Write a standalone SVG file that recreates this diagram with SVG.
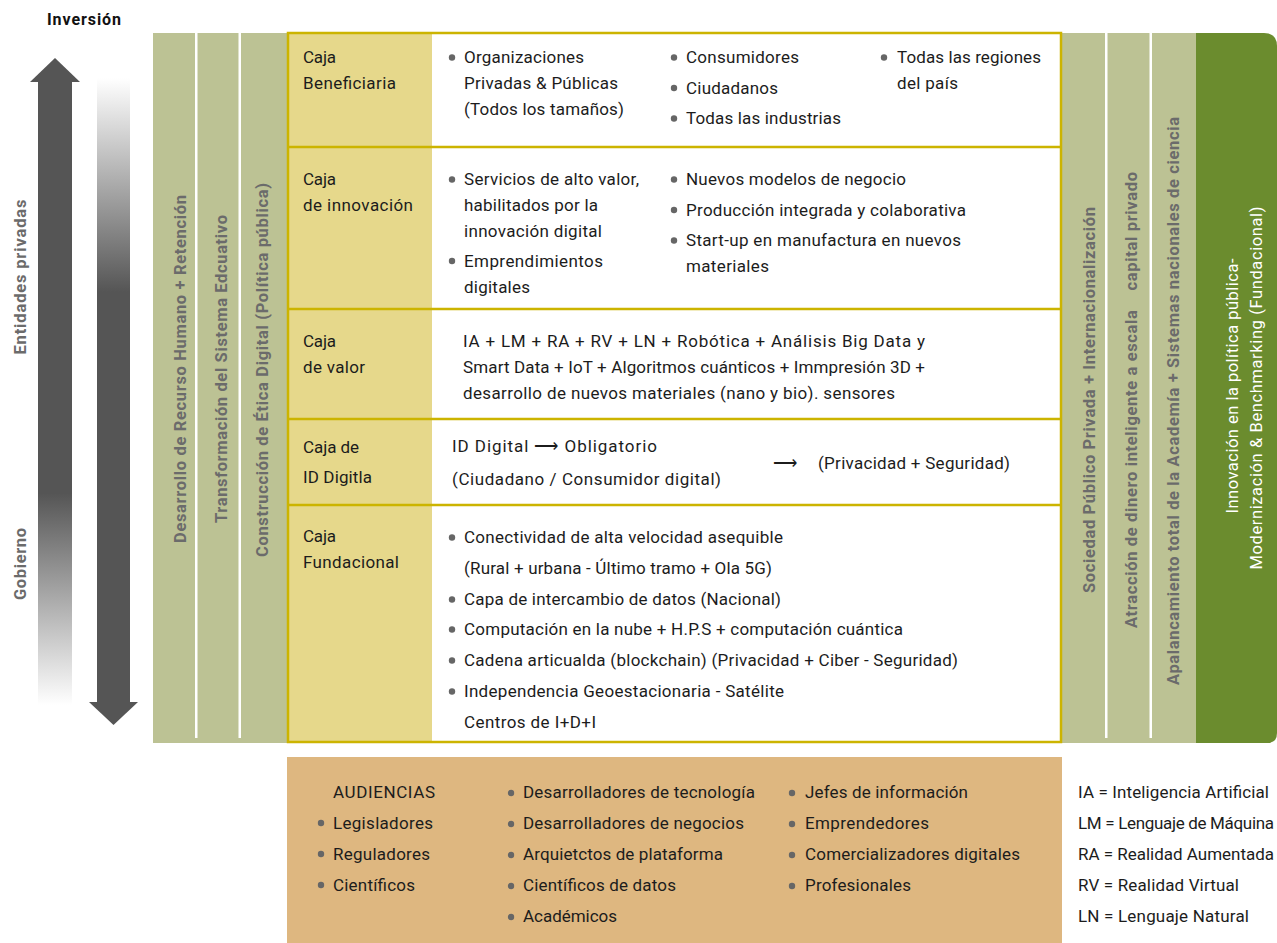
<svg xmlns="http://www.w3.org/2000/svg" width="1277" height="943" viewBox="0 0 1277 943">
<style>
.t{font-family:Roboto,"Liberation Sans",sans-serif;font-size:17px;fill:#1c1c1c}
.v{font-family:Roboto,"Liberation Sans",sans-serif;font-size:16.5px;font-weight:bold;fill:#6b6b6b}
.w{font-family:Roboto,"Liberation Sans",sans-serif;font-size:16.5px;fill:#ffffff}
.b{fill:#666666}
.lg{fill:#bcc294}
.lab{fill:#e6d88b}
.gold{fill:none;stroke:#ccb400;stroke-width:2.5}
</style>
<defs>
<linearGradient id="gUp" gradientUnits="userSpaceOnUse" x1="0" y1="82" x2="0" y2="705">
<stop offset="0" stop-color="#555555"/><stop offset="0.66" stop-color="#555555"/><stop offset="1" stop-color="#ffffff"/>
</linearGradient>
<linearGradient id="gDown" gradientUnits="userSpaceOnUse" x1="0" y1="78" x2="0" y2="292">
<stop offset="0" stop-color="#ffffff"/><stop offset="1" stop-color="#555555"/>
</linearGradient>
</defs>
<rect width="1277" height="943" fill="#ffffff"/>

<g id="axis">
<text class="t" x="47" y="25" style="font-weight:bold;font-size:16px;fill:#111" textLength="74">Inversión</text>
<rect x="38" y="81" width="34" height="624" fill="url(#gUp)"/>
<polygon points="30,82 55,58 80,82" fill="#555555"/>
<rect x="97" y="78" width="33" height="625" fill="url(#gDown)"/>
<polygon points="89,702 113.5,725 138,702" fill="#555555"/>
<text class="v" transform="translate(20.5,277) rotate(-90)" x="0" y="5.5" text-anchor="middle" textLength="155">Entidades privadas</text>
<text class="v" transform="translate(20.5,564) rotate(-90)" x="0" y="5.5" text-anchor="middle" textLength="72">Gobierno</text>
</g>

<g id="left-columns">
<rect class="lg" x="153" y="33" width="135" height="710"/>
<rect x="195" y="33" width="2.5" height="705" fill="#ffffff"/>
<rect x="238.5" y="33" width="2.5" height="705" fill="#ffffff"/>
<text class="v" transform="translate(180.5,369) rotate(-90)" x="0" y="5.5" text-anchor="middle" textLength="348">Desarrollo de Recurso Humano + Retención</text>
<text class="v" transform="translate(221.5,369) rotate(-90)" x="0" y="5.5" text-anchor="middle" textLength="308">Transformación del Sistema Edcuativo</text>
<text class="v" transform="translate(262.5,370) rotate(-90)" x="0" y="5.5" text-anchor="middle" textLength="374">Construcción de Ética Digital (Política pública)</text>
</g>

<g id="right-columns">
<rect class="lg" x="1062" y="33" width="136" height="710"/>
<rect x="1105" y="33" width="2.5" height="705" fill="#ffffff"/>
<rect x="1149.5" y="33" width="2.5" height="705" fill="#ffffff"/>
<path d="M1196,33 H1264 Q1277,33 1277,46 V733 Q1277,743 1267,743 H1196 Z" fill="#6b8c2e"/>
<text class="v" transform="translate(1089.5,400) rotate(-90)" x="0" y="5.5" text-anchor="middle" textLength="386">Sociedad Público Privada + Internacionalización</text>
<text class="v" transform="translate(1131.5,400) rotate(-90)" x="0" y="5.5" text-anchor="middle" textLength="456">Atracción de dinero inteligente a escala&#160;&#160;&#160; capital privado</text>
<text class="v" transform="translate(1173.5,401) rotate(-90)" x="0" y="5.5" text-anchor="middle" textLength="568">Apalancamiento total de la Academía + Sistemas nacionales de ciencia</text>
<text class="w" transform="translate(1232.5,386) rotate(-90)" x="0" y="5.5" text-anchor="middle" textLength="255">Innovación en la política pública-</text>
<text class="w" transform="translate(1256.5,388) rotate(-90)" x="0" y="5.5" text-anchor="middle" textLength="363">Modernización &amp; Benchmarking (Fundacional)</text>
</g>

<g id="table">
<rect x="287" y="32" width="775" height="711" fill="#ffffff"/>
<rect class="lab" x="288" y="33" width="144" height="709"/>
<line x1="287" y1="147" x2="1062" y2="147" stroke="#ccb400" stroke-width="2.5"/>
<line x1="287" y1="309" x2="1062" y2="309" stroke="#ccb400" stroke-width="2.5"/>
<line x1="287" y1="419" x2="1062" y2="419" stroke="#ccb400" stroke-width="2.5"/>
<line x1="287" y1="505" x2="1062" y2="505" stroke="#ccb400" stroke-width="2.5"/>
<rect class="gold" x="288" y="33" width="773" height="709"/>
</g>

<g id="caja-beneficiaria">
<text class="t" x="303" y="63" textLength="33">Caja</text>
<text class="t" x="303" y="89" textLength="93">Beneficiaria</text>
<circle class="b" cx="452" cy="57.5" r="3.2"/>
<text class="t" x="464" y="63" textLength="120">Organizaciones</text>
<text class="t" x="464" y="89" textLength="154">Privadas &amp; Públicas</text>
<text class="t" x="464" y="115" textLength="160">(Todos los tamaños)</text>
<circle class="b" cx="674" cy="57.5" r="3.2"/>
<text class="t" x="686" y="63" textLength="113">Consumidores</text>
<circle class="b" cx="674" cy="88" r="3.2"/>
<text class="t" x="686" y="93.5" textLength="92">Ciudadanos</text>
<circle class="b" cx="674" cy="118.5" r="3.2"/>
<text class="t" x="686" y="124" textLength="155">Todas las industrias</text>
<circle class="b" cx="884" cy="57.5" r="3.2"/>
<text class="t" x="897" y="63" textLength="144">Todas las regiones</text>
<text class="t" x="897" y="89" textLength="61">del país</text>
</g>

<g id="caja-innovacion">
<text class="t" x="303" y="185" textLength="33">Caja</text>
<text class="t" x="303" y="211" textLength="110">de innovación</text>
<circle class="b" cx="452" cy="179.5" r="3.2"/>
<text class="t" x="464" y="185" textLength="175">Servicios de alto valor,</text>
<text class="t" x="464" y="211" textLength="134">habilitados por la</text>
<text class="t" x="464" y="237" textLength="138">innovación digital</text>
<circle class="b" cx="452" cy="261" r="3.2"/>
<text class="t" x="464" y="266.5" textLength="139">Emprendimientos</text>
<text class="t" x="464" y="292.5" textLength="66">digitales</text>
<circle class="b" cx="674" cy="179.5" r="3.2"/>
<text class="t" x="686" y="185" textLength="220">Nuevos modelos de negocio</text>
<circle class="b" cx="674" cy="210" r="3.2"/>
<text class="t" x="686" y="215.5" textLength="280">Producción integrada y colaborativa</text>
<circle class="b" cx="674" cy="240.5" r="3.2"/>
<text class="t" x="686" y="246" textLength="275">Start-up en manufactura en nuevos</text>
<text class="t" x="686" y="272" textLength="83">materiales</text>
</g>

<g id="caja-valor">
<text class="t" x="303" y="347" textLength="33">Caja</text>
<text class="t" x="303" y="373" textLength="62">de valor</text>
<text class="t" x="463" y="347" textLength="462">IA + LM + RA + RV + LN + Robótica + Análisis Big Data y</text>
<text class="t" x="463" y="373" textLength="462">Smart Data + IoT + Algoritmos cuánticos + Immpresión 3D +</text>
<text class="t" x="463" y="399" textLength="432">desarrollo de nuevos materiales (nano y bio). sensores</text>
</g>

<g id="caja-id">
<text class="t" x="303" y="453" textLength="56">Caja de</text>
<text class="t" x="303" y="483" textLength="69">ID Digitla</text>
<text class="t" x="452" y="452" textLength="205">ID Digital ⟶ Obligatorio</text>
<text class="t" x="452" y="485" textLength="269">(Ciudadano / Consumidor digital)</text>
<text class="t" x="773" y="469" textLength="25">⟶</text>
<text class="t" x="818" y="469" textLength="192">(Privacidad + Seguridad)</text>
</g>

<g id="caja-fundacional">
<text class="t" x="303" y="542" textLength="33">Caja</text>
<text class="t" x="303" y="568" textLength="96">Fundacional</text>
<circle class="b" cx="452" cy="537.5" r="3.2"/>
<text class="t" x="464" y="543" textLength="319">Conectividad de alta velocidad asequible</text>
<text class="t" x="464" y="574" textLength="308">(Rural + urbana - Último tramo + Ola 5G)</text>
<circle class="b" cx="452" cy="599.5" r="3.2"/>
<text class="t" x="464" y="605" textLength="317">Capa de intercambio de datos (Nacional)</text>
<circle class="b" cx="452" cy="629.5" r="3.2"/>
<text class="t" x="464" y="635" textLength="439">Computación en la nube + H.P.S + computación cuántica</text>
<circle class="b" cx="452" cy="660.5" r="3.2"/>
<text class="t" x="464" y="666" textLength="494">Cadena articualda (blockchain) (Privacidad + Ciber - Seguridad)</text>
<circle class="b" cx="452" cy="691.5" r="3.2"/>
<text class="t" x="464" y="697" textLength="320">Independencia Geoestacionaria - Satélite</text>
<text class="t" x="464" y="728" textLength="132">Centros de I+D+I</text>
</g>

<g id="audiencias">
<rect x="287" y="757" width="775" height="186" fill="#deb780"/>
<text class="t" x="333" y="798" textLength="102">AUDIENCIAS</text>
<circle class="b" cx="321" cy="823" r="3.2"/>
<text class="t" x="333" y="829" textLength="100">Legisladores</text>
<circle class="b" cx="321" cy="854" r="3.2"/>
<text class="t" x="333" y="860" textLength="97">Reguladores</text>
<circle class="b" cx="321" cy="885" r="3.2"/>
<text class="t" x="333" y="891" textLength="82">Científicos</text>
<circle class="b" cx="511" cy="793" r="3.2"/>
<text class="t" x="523" y="798" textLength="232">Desarrolladores de tecnología</text>
<circle class="b" cx="511" cy="824" r="3.2"/>
<text class="t" x="523" y="829" textLength="221">Desarrolladores de negocios</text>
<circle class="b" cx="511" cy="855" r="3.2"/>
<text class="t" x="523" y="860" textLength="200">Arquietctos de plataforma</text>
<circle class="b" cx="511" cy="886" r="3.2"/>
<text class="t" x="523" y="891" textLength="153">Científicos de datos</text>
<circle class="b" cx="511" cy="917" r="3.2"/>
<text class="t" x="523" y="922" textLength="94">Académicos</text>
<circle class="b" cx="792" cy="793" r="3.2"/>
<text class="t" x="805" y="798" textLength="163">Jefes de información</text>
<circle class="b" cx="792" cy="824" r="3.2"/>
<text class="t" x="805" y="829" textLength="124">Emprendedores</text>
<circle class="b" cx="792" cy="855" r="3.2"/>
<text class="t" x="805" y="860" textLength="215">Comercializadores digitales</text>
<circle class="b" cx="792" cy="886" r="3.2"/>
<text class="t" x="805" y="891" textLength="106">Profesionales</text>
</g>

<g id="legend">
<text class="t" x="1078" y="798" textLength="191">IA = Inteligencia Artificial</text>
<text class="t" x="1078" y="829" textLength="196">LM = Lenguaje de Máquina</text>
<text class="t" x="1078" y="860" textLength="196">RA = Realidad Aumentada</text>
<text class="t" x="1078" y="891" textLength="161">RV = Realidad Virtual</text>
<text class="t" x="1078" y="922" textLength="171">LN = Lenguaje Natural</text>
</g>
</svg>
